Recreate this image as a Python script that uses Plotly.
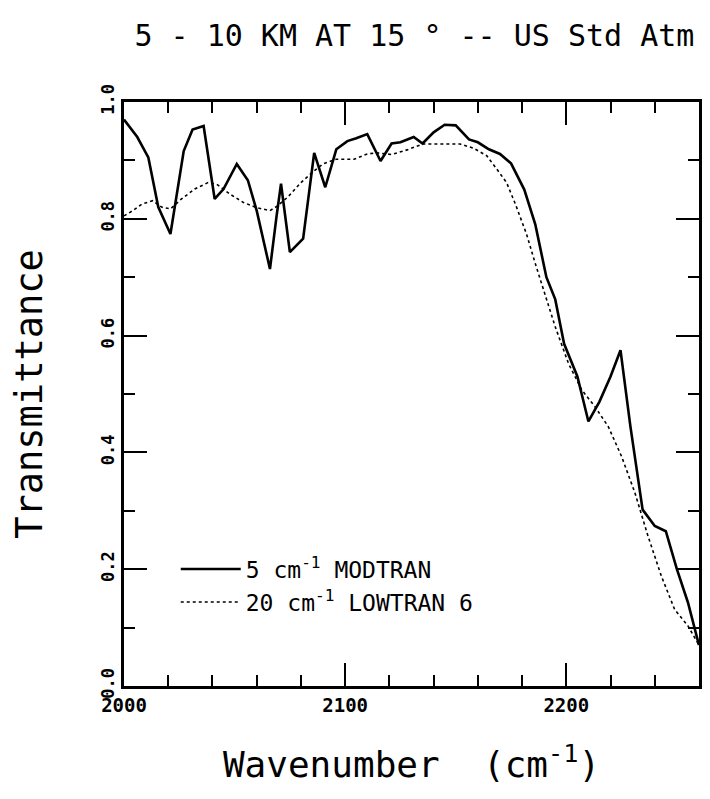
import plotly.graph_objects as go

# MODTRAN 5 cm-1 (solid)
modtran_wn = [2000, 2006, 2011, 2015.5, 2021, 2027, 2031, 2036, 2041, 2045, 2051, 2056, 2060,
              2066, 2069, 2071, 2075, 2081, 2086, 2091, 2096, 2101, 2105, 2110, 2116, 2121,
              2125, 2131, 2135, 2140, 2145, 2150, 2156, 2160, 2165, 2170, 2175, 2181, 2186,
              2189, 2191, 2195, 2199, 2205, 2210, 2215, 2220, 2224.5, 2229, 2234.5, 2240,
              2245, 2250, 2255, 2260]
modtran_t = [0.97, 0.94, 0.905, 0.82, 0.774, 0.916, 0.953, 0.959, 0.834, 0.851, 0.894, 0.866, 0.814,
             0.714, 0.805, 0.86, 0.743, 0.766, 0.913, 0.854, 0.919, 0.933, 0.938, 0.945, 0.899, 0.929,
             0.931, 0.94, 0.929, 0.948, 0.961, 0.96, 0.936, 0.931, 0.919, 0.911, 0.895, 0.85, 0.79,
             0.734, 0.70, 0.662, 0.586, 0.53, 0.453, 0.487, 0.53, 0.575, 0.444, 0.302, 0.274,
             0.265, 0.20, 0.143, 0.07]

# LOWTRAN 6 20 cm-1 (dotted)
lowtran_wn = [2000, 2004, 2008, 2013, 2017, 2021, 2026, 2032, 2038, 2042, 2048, 2054, 2060, 2066,
              2069, 2074, 2080, 2085, 2090, 2096, 2104, 2110, 2114, 2121, 2128, 2135, 2144, 2152,
              2158, 2164, 2168, 2173, 2177, 2182, 2186, 2190, 2195, 2201, 2207, 2213, 2219, 2225,
              2231, 2237, 2243, 2249, 2255, 2260]
lowtran_t = [0.805, 0.814, 0.825, 0.831, 0.82, 0.817, 0.834, 0.851, 0.862, 0.859, 0.842, 0.828, 0.819,
             0.814, 0.821, 0.837, 0.862, 0.879, 0.894, 0.902, 0.902, 0.911, 0.913, 0.91, 0.918, 0.928,
             0.928, 0.928, 0.921, 0.908, 0.888, 0.862, 0.825, 0.774, 0.723, 0.675, 0.615, 0.552,
             0.507, 0.478, 0.444, 0.393, 0.331, 0.256, 0.188, 0.131, 0.103, 0.07]

x_ticks = [2000, 2100, 2200]
x_tick_labels = ["2000", "2100", "2200"]
y_ticks = [0.0, 0.2, 0.4, 0.6, 0.8, 1.0]
y_tick_labels = ["0.0", "0.2", "0.4", "0.6", "0.8", "1.0"]

MONO = "DejaVu Sans Mono"

fig = go.Figure()
fig.add_trace(go.Scatter(x=modtran_wn, y=modtran_t, mode="lines",
                         line=dict(color="black", width=2.6),
                         name="5 cm<sup>-1</sup> MODTRAN"))
fig.add_trace(go.Scatter(x=lowtran_wn, y=lowtran_t, mode="lines",
                         line=dict(color="black", width=1.6, dash="dot"),
                         name="20 cm<sup>-1</sup> LOWTRAN 6"))

axis_common = dict(showgrid=False, zeroline=False, showline=True, linecolor="black",
                   linewidth=2.5, mirror="ticks", ticks="inside", ticklen=23,
                   tickwidth=2, tickcolor="black")

fig.update_layout(
    width=702, height=791,
    margin=dict(l=116, r=8, t=94, b=113),
    paper_bgcolor="white", plot_bgcolor="white",
    title=dict(text="5 - 10 KM AT 15 ° -- US Std Atm", x=0.505, xref="paper",
               y=0.965, yanchor="middle",
               font=dict(family=MONO, size=30, color="black")),
    showlegend=True,
    legend=dict(x=0.09, y=0.237, xanchor="left", yanchor="top",
                bgcolor="rgba(0,0,0,0)", itemwidth=60, tracegroupgap=0,
                font=dict(family=MONO, size=23, color="black")),
    xaxis=dict(range=[2000, 2260], tickvals=x_ticks, ticktext=x_tick_labels,
               tickfont=dict(family=MONO, size=19, color="black", weight="bold"),
               minor=dict(dtick=20, ticklen=11, tickwidth=2, ticks="inside", tickcolor="black"),
               title=dict(text="Wavenumber  (cm<sup>-1</sup>)", standoff=38,
                          font=dict(family=MONO, size=36, color="black")),
               **axis_common),
    yaxis=dict(range=[0, 1], tickvals=y_ticks, ticktext=y_tick_labels, tickangle=-90,
               tickfont=dict(family=MONO, size=17, color="black", weight="bold"),
               minor=dict(dtick=0.1, ticklen=11, tickwidth=2, ticks="inside", tickcolor="black"),
               title=dict(text="Transmittance", standoff=45,
                          font=dict(family=MONO, size=37, color="black")),
               **axis_common),
)

fig.write_html("out.html")
